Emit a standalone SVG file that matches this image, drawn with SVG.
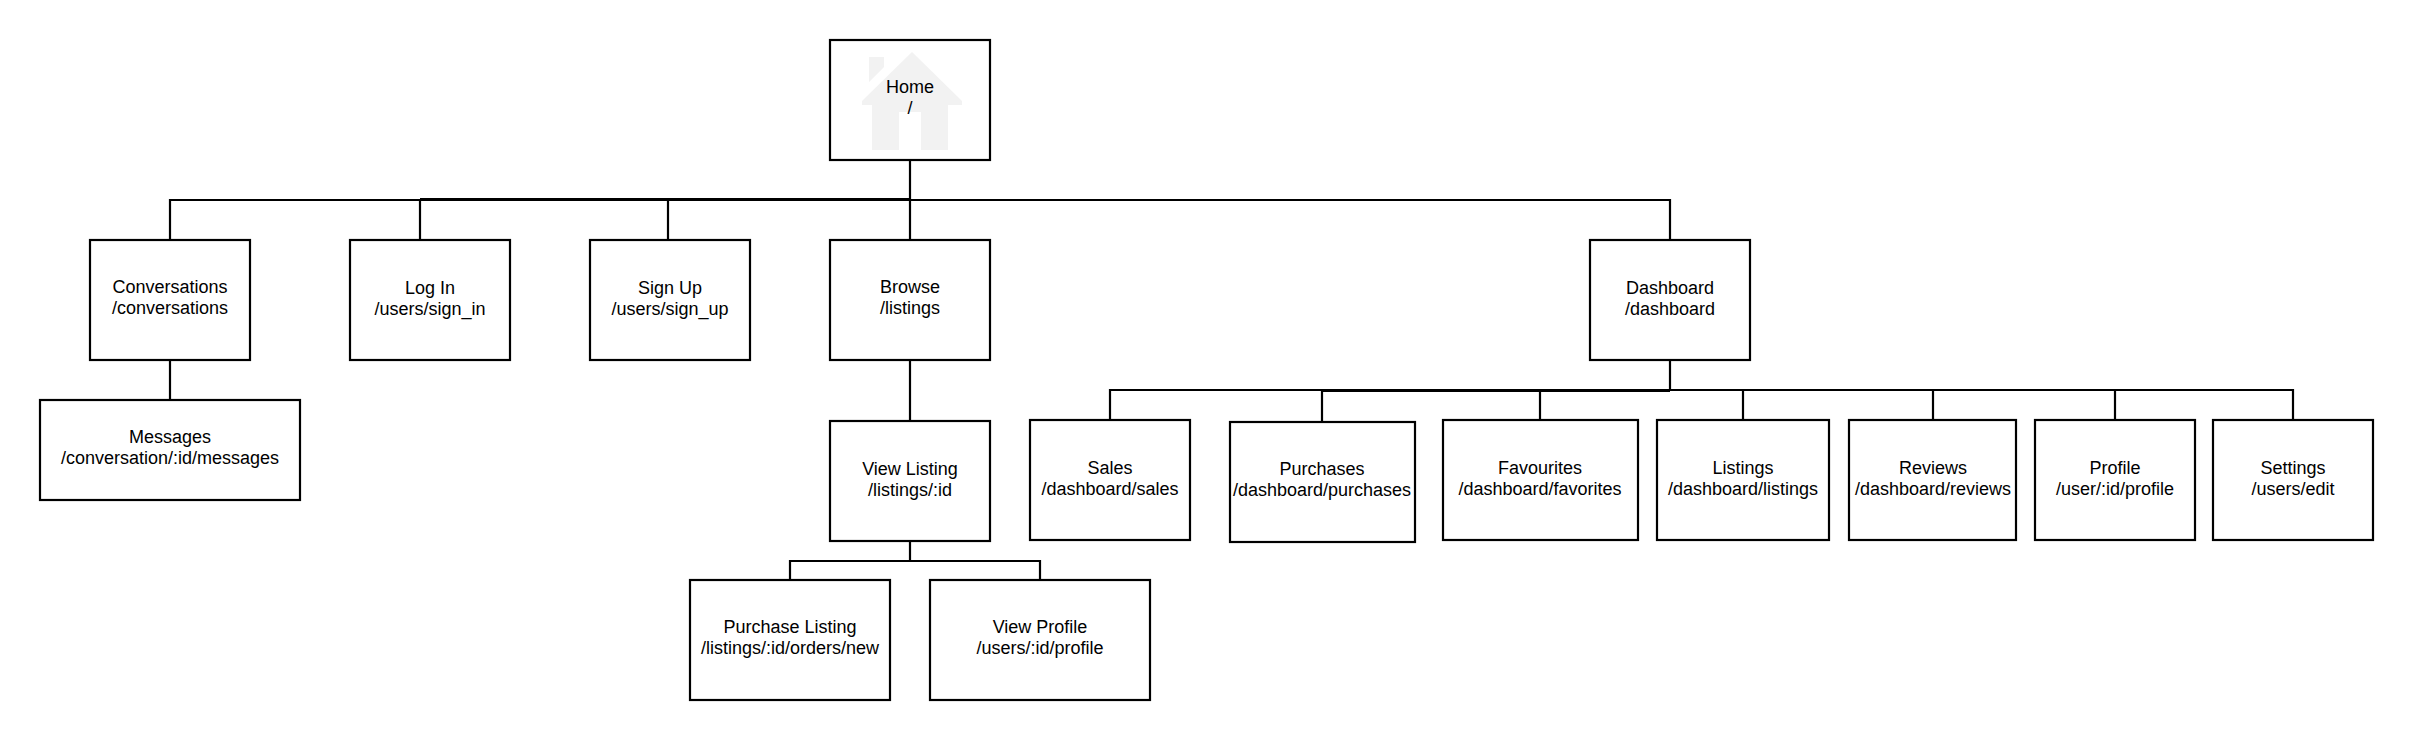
<svg xmlns="http://www.w3.org/2000/svg" width="2413" height="740" viewBox="0 0 2413 740">
<style>
.n{fill:#fff;stroke:#000;stroke-width:2.2}
.c{fill:none;stroke:#000;stroke-width:2.2}
text{font-family:"Liberation Sans",Arial,sans-serif;font-size:18px;fill:#000;text-anchor:middle}
.h{fill:#f2f2f2}
</style>
<rect width="2413" height="740" fill="#fff"/>
<g id="connectors">
<path class="c" d="M910 160V240M170 240V200H1670V240M420 199V240M668 200V240"/>
<path class="c" d="M420 199H910"/>
<path class="c" d="M170 360V400M910 360V420M910 540V561M790 580V561H1040V580"/>
<path class="c" d="M1670 360V391M1110 420V390H2293V420M1322 391H1670M1322 391V422M1540 391V420M1743 390V420M1933 390V420M2115 390V420"/>
</g>
<g id="home"><rect class="n" x="830" y="40" width="160" height="120"/>
<path class="h" d="M912 52L962 101V105H948V150H921V112H899V150H872V105H862V101ZM869 57H884V67L869 82Z"/>
<text x="910" y="93">Home</text><text x="910" y="114">/</text></g>
<g id="conversations"><rect class="n" x="90" y="240" width="160" height="120"/><text x="170" y="293">Conversations</text><text x="170" y="314">/conversations</text></g>
<g id="login"><rect class="n" x="350" y="240" width="160" height="120"/><text x="430" y="294">Log In</text><text x="430" y="315">/users/sign_in</text></g>
<g id="signup"><rect class="n" x="590" y="240" width="160" height="120"/><text x="670" y="294">Sign Up</text><text x="670" y="315">/users/sign_up</text></g>
<g id="browse"><rect class="n" x="830" y="240" width="160" height="120"/><text x="910" y="293">Browse</text><text x="910" y="314">/listings</text></g>
<g id="dashboard"><rect class="n" x="1590" y="240" width="160" height="120"/><text x="1670" y="294">Dashboard</text><text x="1670" y="315">/dashboard</text></g>
<g id="messages"><rect class="n" x="40" y="400" width="260" height="100"/><text x="170" y="443">Messages</text><text x="170" y="464">/conversation/:id/messages</text></g>
<g id="view-listing"><rect class="n" x="830" y="421" width="160" height="120"/><text x="910" y="475">View Listing</text><text x="910" y="496">/listings/:id</text></g>
<g id="purchase-listing"><rect class="n" x="690" y="580" width="200" height="120"/><text x="790" y="633">Purchase Listing</text><text x="790" y="654">/listings/:id/orders/new</text></g>
<g id="view-profile"><rect class="n" x="930" y="580" width="220" height="120"/><text x="1040" y="633">View Profile</text><text x="1040" y="654">/users/:id/profile</text></g>
<g id="sales"><rect class="n" x="1030" y="420" width="160" height="120"/><text x="1110" y="474">Sales</text><text x="1110" y="495">/dashboard/sales</text></g>
<g id="purchases"><rect class="n" x="1230" y="422" width="185" height="120"/><text x="1322" y="475">Purchases</text><text x="1322" y="496">/dashboard/purchases</text></g>
<g id="favourites"><rect class="n" x="1443" y="420" width="195" height="120"/><text x="1540" y="474">Favourites</text><text x="1540" y="495">/dashboard/favorites</text></g>
<g id="listings"><rect class="n" x="1657" y="420" width="172" height="120"/><text x="1743" y="474">Listings</text><text x="1743" y="495">/dashboard/listings</text></g>
<g id="reviews"><rect class="n" x="1849" y="420" width="167" height="120"/><text x="1933" y="474">Reviews</text><text x="1933" y="495">/dashboard/reviews</text></g>
<g id="profile"><rect class="n" x="2035" y="420" width="160" height="120"/><text x="2115" y="474">Profile</text><text x="2115" y="495">/user/:id/profile</text></g>
<g id="settings"><rect class="n" x="2213" y="420" width="160" height="120"/><text x="2293" y="474">Settings</text><text x="2293" y="495">/users/edit</text></g>
</svg>
